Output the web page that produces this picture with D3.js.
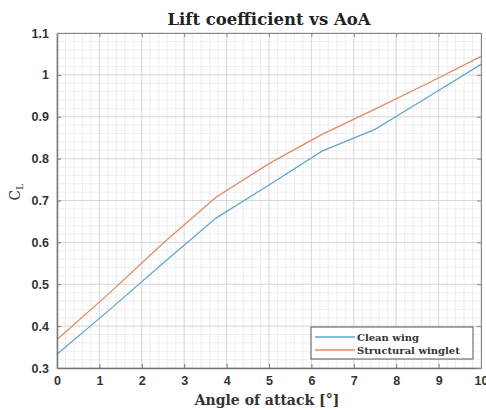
<!DOCTYPE html>
<html>
<head>
<meta charset="utf-8">
<script src="https://cdn.jsdelivr.net/npm/d3@7"></script>
<style>
  body { margin: 0; background: #fff; }
  .tick text { font-family: "Liberation Sans", Arial, sans-serif; font-weight: bold; font-size: 12.5px; fill: #333; }
</style>
</head>
<body>
<div class="chart"></div>
<script>
// data
const aoa = [0, 1.25, 2.5, 3.75, 5, 6.25, 7.5, 8.75, 10];
const cleanWing = [0.333, 0.44, 0.55, 0.658, 0.737, 0.818, 0.87, 0.947, 1.025];
const structWinglet = [0.368, 0.48, 0.598, 0.708, 0.788, 0.858, 0.918, 0.98, 1.044];
const seriesNames = ["Clean wing", "Structural winglet"];
const seriesColors = ["#62a8cc", "#e28b62"];
const xTicks = [0, 1, 2, 3, 4, 5, 6, 7, 8, 9, 10];
const yTicks = [0.3, 0.4, 0.5, 0.6, 0.7, 0.8, 0.9, 1, 1.1];

const w = 486, h = 410;
const margin = { left: 57, right: 5, top: 33, bottom: 42 };
const chartWidth = w - margin.left - margin.right;
const chartHeight = h - margin.top - margin.bottom;

const svg = d3.select(".chart")
    .append("svg")
    .attr("width", w)
    .attr("height", h);

const g = svg.append("g")
    .attr("transform", `translate(${margin.left},${margin.top})`);

const xScale = d3.scaleLinear().domain([0, 10]).range([0, chartWidth]);
const yScale = d3.scaleLinear().domain([0.3, 1.1]).range([chartHeight, 0]);

// minor grid
const xMinor = d3.range(0, 10.001, 0.2);
const yMinor = d3.range(0.3, 1.1001, 0.02);
g.append("g").selectAll("line")
    .data(xMinor)
    .enter().append("line")
    .attr("x1", d => xScale(d)).attr("x2", d => xScale(d))
    .attr("y1", 0).attr("y2", chartHeight)
    .attr("stroke", "#e8e8e8").attr("stroke-width", 0.7);
g.append("g").selectAll("line")
    .data(yMinor)
    .enter().append("line")
    .attr("y1", d => yScale(d)).attr("y2", d => yScale(d))
    .attr("x1", 0).attr("x2", chartWidth)
    .attr("stroke", "#e8e8e8").attr("stroke-width", 0.7);

// major grid
g.append("g").selectAll("line")
    .data(xTicks)
    .enter().append("line")
    .attr("x1", d => xScale(d)).attr("x2", d => xScale(d))
    .attr("y1", 0).attr("y2", chartHeight)
    .attr("stroke", "#d4d4d4").attr("stroke-width", 0.8);
g.append("g").selectAll("line")
    .data(yTicks)
    .enter().append("line")
    .attr("y1", d => yScale(d)).attr("y2", d => yScale(d))
    .attr("x1", 0).attr("x2", chartWidth)
    .attr("stroke", "#d4d4d4").attr("stroke-width", 0.8);

// curves
const line = d3.line()
    .x((d, i) => xScale(aoa[i]))
    .y(d => yScale(d));

[cleanWing, structWinglet].forEach((s, k) => {
    g.append("path")
        .datum(s)
        .attr("fill", "none")
        .attr("stroke", seriesColors[k])
        .attr("stroke-width", 1.3)
        .attr("d", line);
});

// axes (box with inward ticks, like matlab)
const xAxis = d3.axisBottom(xScale).tickValues(xTicks).tickFormat(d3.format("d")).tickSizeInner(-4).tickSizeOuter(0).tickPadding(8);
const yAxis = d3.axisLeft(yScale).tickValues(yTicks).tickFormat(d => d === 1 ? "1" : d3.format(".1f")(d)).tickSizeInner(-4).tickSizeOuter(0).tickPadding(8);

g.append("g")
    .attr("transform", `translate(0,${chartHeight})`)
    .call(xAxis)
    .call(a => a.select(".domain").attr("stroke", "#777").attr("stroke-width", 1.5))
    .call(a => a.selectAll(".tick line").attr("stroke", "#777"));

g.append("g")
    .call(yAxis)
    .call(a => a.select(".domain").attr("stroke", "#777").attr("stroke-width", 1.5))
    .call(a => a.selectAll(".tick line").attr("stroke", "#777"));

g.append("g")
    .call(d3.axisTop(xScale).tickValues(xTicks).tickFormat("").tickSizeInner(-4).tickSizeOuter(0))
    .call(a => a.select(".domain").attr("stroke", "#888"))
    .call(a => a.selectAll(".tick line").attr("stroke", "#888"));

g.append("g")
    .attr("transform", `translate(${chartWidth},0)`)
    .call(d3.axisRight(yScale).tickValues(yTicks).tickFormat("").tickSizeInner(-4).tickSizeOuter(0))
    .call(a => a.select(".domain").attr("stroke", "#888"))
    .call(a => a.selectAll(".tick line").attr("stroke", "#888"));

// title and labels
svg.append("text")
    .attr("x", margin.left + chartWidth / 2)
    .attr("y", 25)
    .attr("text-anchor", "middle")
    .style("font-family", "'DejaVu Serif', serif")
    .style("font-weight", "bold")
    .style("font-size", "16.5px")
    .style("fill", "#222")
    .text("Lift coefficient vs AoA");

svg.append("text")
    .attr("x", margin.left + chartWidth / 2 - 2)
    .attr("y", 405)
    .attr("text-anchor", "middle")
    .style("font-family", "'DejaVu Serif', serif")
    .style("font-weight", "bold")
    .style("font-size", "14px")
    .style("fill", "#333")
    .text("Angle of attack [°]");

const ylab = svg.append("text")
    .attr("transform", `translate(20,${margin.top + yScale(0.72)}) rotate(-90)`)
    .attr("text-anchor", "middle")
    .style("font-family", "'DejaVu Serif', serif")
    .style("font-size", "14px")
    .style("fill", "#333");
ylab.append("tspan").text("C");
ylab.append("tspan").attr("dy", 3).style("font-size", "9px").text("L");

// legend
const legend = g.append("g")
    .attr("id", "legend")
    .attr("transform", `translate(${chartWidth - 170},${chartHeight - 41})`);

legend.append("rect")
    .attr("width", 162)
    .attr("height", 32)
    .attr("fill", "#fff")
    .attr("stroke", "#555")
    .attr("stroke-width", 1);

const legendItem = legend.selectAll(".legend-item")
    .data(seriesNames)
    .enter().append("g")
    .attr("class", "legend-item")
    .attr("transform", (d, i) => `translate(0,${10 + i * 13})`);

legendItem.append("line")
    .attr("x1", 4).attr("x2", 44)
    .attr("stroke", (d, i) => seriesColors[i])
    .attr("stroke-width", 1.3);

legendItem.append("text")
    .attr("x", 46)
    .attr("dy", "0.35em")
    .style("font-family", "'DejaVu Serif', serif")
    .style("font-weight", "bold")
    .style("font-size", "10px")
    .style("fill", "#333")
    .text(d => d);
</script>
</body>
</html>
